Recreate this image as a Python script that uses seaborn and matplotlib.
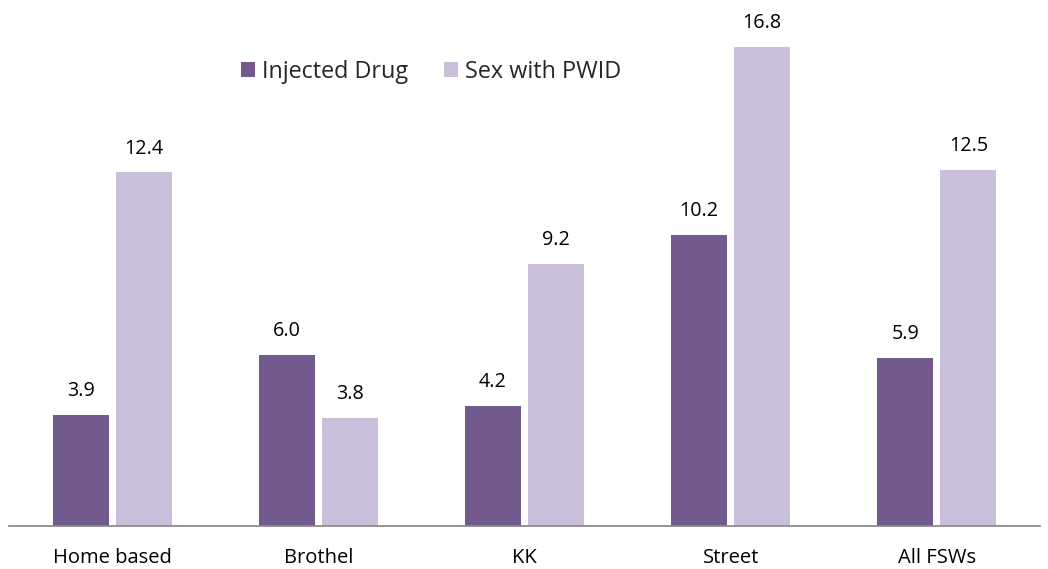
import pandas as pd
import matplotlib.pyplot as plt
import seaborn as sns

categories = ["Home based", "Brothel", "KK", "Street", "All FSWs"]
injected_drug = [3.9, 6.0, 4.2, 10.2, 5.9]
sex_with_pwid = [12.4, 3.8, 9.2, 16.8, 12.5]
series_names = ["Injected Drug", "Sex with PWID"]
colors = ["#72598E", "#CBC0DB"]

df = pd.DataFrame({
    "Type": categories * 2,
    "Series": [series_names[0]] * 5 + [series_names[1]] * 5,
    "Value": injected_drug + sex_with_pwid,
})

sns.set_style("white")
plt.rcParams["font.family"] = ["Open Sans", "DejaVu Sans"]

fig = plt.figure(figsize=(10.48, 5.69), dpi=100)
ax = fig.add_axes([9 / 1048, 43 / 569, 1031 / 1048, 526 / 569])

sns.barplot(data=df, x="Type", y="Value", hue="Series", palette=colors,
            width=0.61, gap=0.11, linewidth=0, saturation=1, ax=ax, legend=True)

for cont in ax.containers:
    ax.bar_label(cont, fmt="%.1f", padding=10, fontsize=14.2, color="black")

ax.set_ylim(0, 18.45)
ax.set_xlim(-0.5, 4.5)
ax.set_yticks([])
ax.set_xlabel("")
ax.set_ylabel("")
ax.tick_params(axis="x", length=0, pad=16, labelsize=14.5, labelcolor="black")
for s in ["top", "left", "right"]:
    ax.spines[s].set_visible(False)
ax.spines["bottom"].set_color("#8c8c8c")
ax.spines["bottom"].set_linewidth(1.3)

ax.legend(loc="center left", bbox_to_anchor=(0.225, 0.863), ncol=2, frameon=False,
          fontsize=16.8, handlelength=0.62, handleheight=0.62, handletextpad=0.3,
          columnspacing=1.5, borderpad=0, borderaxespad=0)

fig.savefig("out.png", dpi=100)
